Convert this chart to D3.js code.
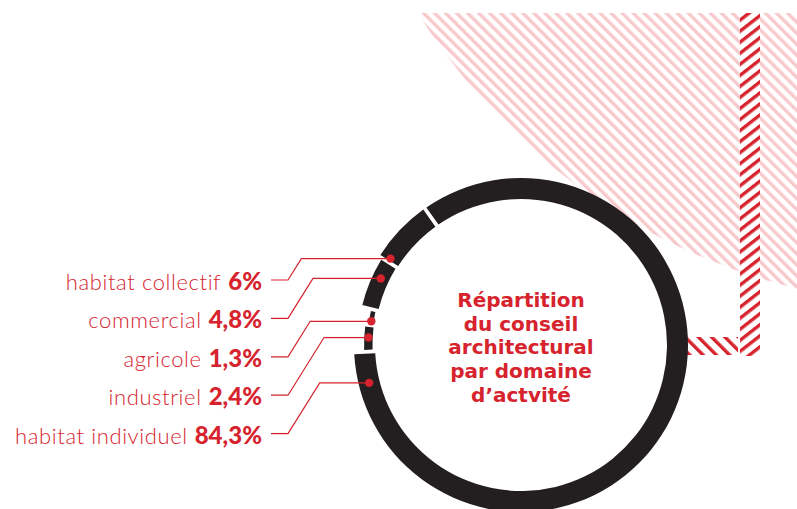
<!DOCTYPE html>
<html>
<head>
<meta charset="utf-8">
<script src="https://cdn.jsdelivr.net/npm/d3@7"></script>
<style>
  html, body { margin: 0; padding: 0; background: #fff; }
  svg { display: block; }
</style>
</head>
<body>
<svg id="chart" width="797" height="509"></svg>
<script>
// Share of architectural advice by activity domain: segmented ring,
// small segments drawn thinner, labels on the left with elbow leaders.

const categories = ['habitat collectif', 'commercial', 'agricole', 'industriel', 'habitat individuel'];
const shares = [6, 4.8, 1.3, 2.4, 84.3];
const shareLabels = ['6%', '4,8%', '1,3%', '2,4%', '84,3%'];
const titleLines = ['Répartition', 'du conseil', 'architectural', 'par domaine', 'd’actvité'];

// clockwise order of the ring, starting on the left side
const ringOrder = ['industriel', 'agricole', 'commercial', 'habitat collectif', 'habitat individuel'];

// layout
const W = 797, H = 509;
const RED = '#d6232d', INK = '#231f20', PINK = '#f7c9cd';
const cx = 521, cy = 345, R_OUT = 167, R_IN = 146;
const deg = Math.PI / 180;
const START = 267.5 * deg;
// where each leader meets its segment (degrees, clockwise from top)
const anchorDeg = [303.5, 295.4, 279, 272.8, 256];

const svg = d3.select('#chart');
const defs = svg.append('defs');

// --- background decoration: pink hatched disc + red dashed rail ---
defs.append('pattern')
  .attr('id', 'pinkHatch')
  .attr('patternUnits', 'userSpaceOnUse')
  .attr('width', 7.8).attr('height', 7.8)
  .attr('patternTransform', 'rotate(-45)')
  .append('rect').attr('width', 3.4).attr('height', 7.8).attr('fill', PINK);

defs.append('pattern')
  .attr('id', 'redV')
  .attr('patternUnits', 'userSpaceOnUse')
  .attr('width', 10).attr('height', 8.7)
  .attr('patternTransform', 'rotate(-38)')
  .append('rect').attr('width', 10).attr('height', 3.4).attr('fill', RED);

defs.append('pattern')
  .attr('id', 'redH')
  .attr('patternUnits', 'userSpaceOnUse')
  .attr('width', 9.4).attr('height', 10)
  .attr('patternTransform', 'rotate(-45)')
  .append('rect').attr('width', 3.4).attr('height', 10).attr('fill', RED);

defs.append('clipPath').attr('id', 'topClip')
  .append('rect').attr('x', 0).attr('y', 13).attr('width', W).attr('height', H - 13);

svg.append('circle')
  .attr('cx', 943).attr('cy', -311).attr('r', 617)
  .attr('fill', 'url(#pinkHatch)')
  .attr('clip-path', 'url(#topClip)');

const rail = svg.append('g');
rail.append('rect').attr('x', 740).attr('y', 13).attr('width', 20).attr('height', 343).attr('fill', '#fff');
rail.append('rect').attr('x', 740).attr('y', 13).attr('width', 20).attr('height', 343).attr('fill', 'url(#redV)');
rail.append('rect').attr('x', 678).attr('y', 337).attr('width', 60).attr('height', 18).attr('fill', 'url(#redH)');

// --- ring ---
const g = svg.append('g').attr('transform', `translate(${cx},${cy})`);
const shareOf = (name) => shares[categories.indexOf(name)];

const pie = d3.pie()
  .sort(null)
  .value(shareOf)
  .startAngle(START)
  .endAngle(START + 2 * Math.PI)
  .padAngle(0.024);

const band = R_OUT - R_IN;
const thick = d3.scaleLinear().domain([0, 6]).range([0, band]).clamp(true);
const innerOf = (name) => R_IN + 0.2 * (band - thick(shareOf(name)));
const outerOf = (name) => innerOf(name) + thick(shareOf(name));

const arc = d3.arc()
  .padRadius(157)
  .innerRadius((d) => innerOf(d.data))
  .outerRadius((d) => outerOf(d.data));

g.append('g').selectAll('path')
  .data(pie(ringOrder))
  .join('path')
  .attr('d', arc)
  .attr('fill', INK);

// --- leaders, dots, labels ---
const rowY = d3.scalePoint().domain(categories).range([280, 433.6]);
const LABEL_X = 262, LINE_X0 = 271, KINK_X = 288, SLOPE = 1.6;

const anchors = categories.map((name, i) => {
  const r = (innerOf(name) + outerOf(name)) / 2;
  const [x, y] = d3.pointRadial(anchorDeg[i] * deg, r);
  return { name, x: cx + x, y: cy + y, row: rowY(name) };
});

svg.append('g').selectAll('path')
  .data(anchors)
  .join('path')
  .attr('d', (d) => {
    const ex = KINK_X + (d.row - d.y) / SLOPE;
    return `M${LINE_X0},${d.row}H${KINK_X}L${ex},${d.y}H${d.x}`;
  })
  .attr('fill', 'none')
  .attr('stroke', RED)
  .attr('stroke-width', 1.2);

svg.append('g').selectAll('circle')
  .data(anchors)
  .join('circle')
  .attr('cx', (d) => d.x)
  .attr('cy', (d) => d.y)
  .attr('r', 4.2)
  .attr('fill', RED);

const labels = svg.append('g').selectAll('text')
  .data(categories)
  .join('text')
  .attr('x', LABEL_X)
  .attr('y', (d) => rowY(d) + 10)
  .attr('text-anchor', 'end')
  .attr('fill', RED);

labels.append('tspan')
  .style('font', '300 22px Lato, "Open Sans", sans-serif')
  .style('letter-spacing', '0.6px')
  .text((d) => d);

labels.append('tspan')
  .attr('dx', 7)
  .style('font', '900 24px Lato, "Open Sans", sans-serif')
  .text((d, i) => shareLabels[i]);

// --- centre title ---
svg.append('g').selectAll('text')
  .data(titleLines)
  .join('text')
  .attr('x', cx)
  .attr('y', (d, i) => 307 + i * 23.7)
  .attr('text-anchor', 'middle')
  .attr('fill', RED)
  .style('font', 'bold 20px "DejaVu Sans", sans-serif')
  .text((d) => d);
</script>
</body>
</html>
